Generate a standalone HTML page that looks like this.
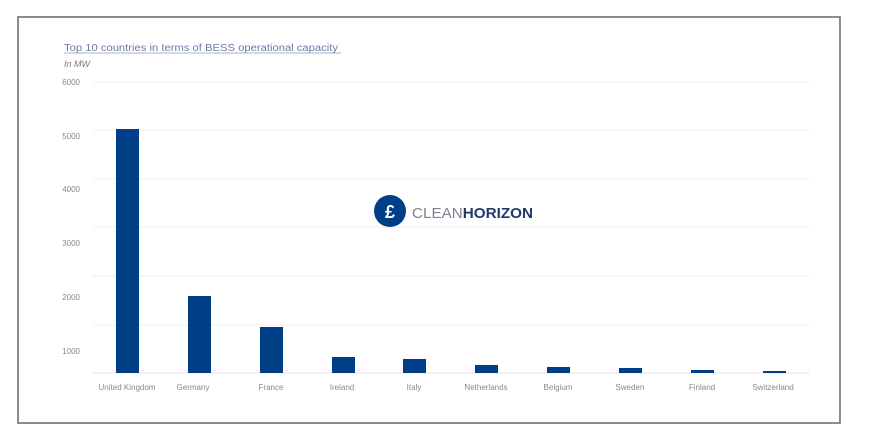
<!DOCTYPE html><html><head><style>body{margin:0;background:#fff;width:876px;height:437px;overflow:hidden;font-family:"Liberation Sans",sans-serif}</style></head><body>
<svg width="876" height="437" xmlns="http://www.w3.org/2000/svg" font-family="Liberation Sans, sans-serif">
<rect x="18" y="17" width="822" height="406" fill="#fff" stroke="#666" stroke-width="1.5"/>
<text x="64" y="51" font-size="10" fill="#6b7aa8" textLength="274" lengthAdjust="spacingAndGlyphs">Top 10 countries in terms of BESS operational capacity</text>
<line x1="64" y1="53" x2="341" y2="53" stroke="#8a97bd" stroke-width="0.8"/>
<text x="64" y="67" font-size="9" font-style="italic" fill="#777">In MW</text>
<g stroke="#eee" stroke-width="1">
<line x1="93" y1="82" x2="810" y2="82"/><line x1="93" y1="130" x2="810" y2="130"/><line x1="93" y1="179" x2="810" y2="179"/><line x1="93" y1="227" x2="810" y2="227"/><line x1="93" y1="276" x2="810" y2="276"/><line x1="93" y1="325" x2="810" y2="325"/><line x1="93" y1="373" x2="810" y2="373" stroke="#e4e4e4"/>
</g>
<g font-size="8" fill="#888" text-anchor="end">
<text x="80" y="85">6000</text><text x="80" y="139">5000</text><text x="80" y="192">4000</text><text x="80" y="246">3000</text><text x="80" y="300">2000</text><text x="80" y="354">1000</text>
</g>
<g fill="#003f87">
<rect x="116" y="129" width="23" height="244"/><rect x="188" y="296" width="23" height="77"/><rect x="260" y="327" width="23" height="46"/><rect x="332" y="357" width="23" height="16"/><rect x="403" y="359" width="23" height="14"/><rect x="475" y="365" width="23" height="8"/><rect x="547" y="367" width="23" height="6"/><rect x="619" y="368" width="23" height="5"/><rect x="691" y="370" width="23" height="3"/><rect x="763" y="371" width="23" height="2"/>
</g>
<g font-size="8" fill="#888" text-anchor="middle">
<text x="127" y="390">United Kingdom</text><text x="193" y="390">Germany</text><text x="271" y="390">France</text><text x="342" y="390">Ireland</text><text x="414" y="390">Italy</text><text x="486" y="390">Netherlands</text><text x="558" y="390">Belgium</text><text x="630" y="390">Sweden</text><text x="702" y="390">Finland</text><text x="773" y="390">Switzerland</text>
</g>
<circle cx="390" cy="211" r="16" fill="#003f87"/>
<text x="390" y="218" font-size="18" font-weight="bold" fill="#fff" text-anchor="middle">£</text>
<text x="412" y="218" font-size="15" fill="#7d8490" textLength="121" lengthAdjust="spacingAndGlyphs">CLEAN<tspan font-weight="bold" fill="#1f3a6b">HORIZON</tspan></text>
</svg></body></html>
